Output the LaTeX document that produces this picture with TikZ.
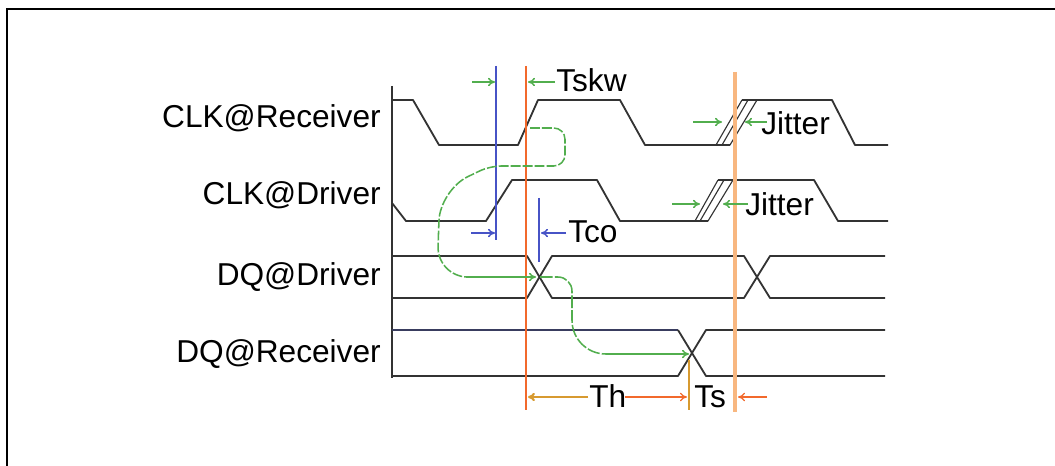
\documentclass[tikz,border=0pt]{standalone}
\usepackage{fontspec}
\setmainfont{Liberation Sans}
\usepackage{tikz}
\usetikzlibrary{arrows.meta,calc}
\definecolor{wave}{HTML}{333333}
\definecolor{skwgreen}{HTML}{52AE4E}
\definecolor{coblue}{HTML}{4753C6}
\definecolor{refred}{HTML}{F2692C}
\definecolor{refpeach}{HTML}{F8B780}
\definecolor{holdgold}{HTML}{D79A30}
\tikzset{
  sig/.style={draw=wave,line width=1.3pt,line join=round},
  jit/.style={draw=wave,line width=0.8pt},
  garr/.style={-{To[length=5pt,width=6pt]},skwgreen,line width=1.1pt},
  barr/.style={-{To[length=5pt,width=6pt]},coblue,line width=1.1pt},
  oarr/.style={-{To[length=5pt,width=6pt]},refred,line width=0.9pt},
  lbl/.style={font=\fontsize{22.5}{26}\selectfont,text=black,inner sep=0pt},
  flow/.style={skwgreen,line width=1.1pt},
}
\begin{document}
\begin{tikzpicture}[x=0.025cm,y=-0.025cm]
\useasboundingbox (0,0) rectangle (1055,466);
\draw[line width=2pt] (7,466) -- (7,9) -- (1055,9);

\node[lbl,anchor=base east] (clkrx) at (381,128) {CLK@Receiver};
\node[lbl,anchor=base east] (clktx) at (381,205) {CLK@Driver};
\node[lbl,anchor=base east] (dqtx) at (381,285) {DQ@Driver};
\node[lbl,anchor=base east] (dqrx) at (381,362) {DQ@Receiver};

\draw[sig] (392,86) -- (392,378);

% clocks
\draw[sig] (392,100) -- (413,100) -- (439,145) -- (518,145) -- (538,100) -- (620,100)
  -- (645,145) -- (730,145);
\draw[jit] (716,145) -- (742,100) (722,145) -- (748,100) (730,145) -- (757,100);
\draw[sig] (742,100) -- (832,100) -- (855,145) -- (888,145);
\draw[sig] (392,203) -- (406,221) -- (486,221) -- (512,180) -- (597,180) -- (620,221)
  -- (708,221);
\draw[jit] (695,221) -- (718,180) (700,221) -- (724,180) (708,221) -- (733,180);
\draw[sig] (718,180) -- (814,180) -- (838,221) -- (888,221);

% data
\draw[sig] (392,256) -- (527,256) -- (552,298) -- (744,298) -- (770,256) -- (885,256);
\draw[sig] (392,298) -- (527,298) -- (552,256) -- (744,256) -- (770,298) -- (885,298);
\draw[sig,draw=coblue!30!wave] (392,330) -- (678,330);
\draw[sig] (678,330) -- (706,376) -- (885,376);
\draw[sig] (392,376) -- (678,376) -- (706,330) -- (885,330);

% markers
\coordinate (skw) at (496,66);
\coordinate (edge) at (526,66);
\coordinate (co) at (539,198);
\coordinate (next) at (735,72);
\draw[coblue,line width=1.2pt] (skw) -- (496,240);
\draw[refred,line width=1.3pt] (edge) -- (526,410);
\draw[coblue,line width=1.3pt] (co) -- (539,262);
\draw[refpeach,line width=2.2pt] (next) -- (735,412);
\draw[holdgold,line width=1.6pt] (689,360) -- (689,410);

% flow
\draw[flow,dash pattern=on 7pt off 1.5pt,rounded corners=8pt] (530,128) -- (565,128) -- (565,166)
  -- (490,166) [rounded corners=22pt] -- (440,190) -- (437,277) -- (470,277);
\draw[flow,-{To[length=5pt,width=6pt]},rounded corners=12pt] (466,277) -- (536,277);
\draw[flow,dash pattern=on 9pt off 1.5pt] (540,277) [rounded corners=10pt] -- (572,277)
  [rounded corners=24pt] -- (572,354) -- (610,354);
\draw[flow,-{To[length=5pt,width=6pt]}] (606,354) -- (689,354);

% timing labels
\draw[garr] (472,82) -- (495,82);
\draw[garr] (555,82) -- (528,82);
\node[lbl,anchor=base west] (tskw) at (556,92) {Tskw};
\draw[barr] (471,233) -- (495,233);
\draw[barr] (566,233) -- (541,233);
\node[lbl,anchor=base west] (tco) at (568,242) {Tco};
\draw[garr] (693,122) -- (722,122);
\draw[garr] (767,122) -- (745,122);
\node[lbl,anchor=base west] (jit1) at (761,135) {Jitter};
\draw[garr] (672,204) -- (700,204);
\draw[garr] (748,204) -- (723,204);
\node[lbl,anchor=base west] (jit2) at (745,215) {Jitter};
\draw[-{To[length=5pt,width=6pt]},holdgold,line width=1.6pt] (588,397) -- (528,397);
\node[lbl,anchor=base west] (th) at (589,407) {Th};
\draw[oarr] (625,397) -- (687,397);
\node[lbl,anchor=base west] (ts) at (694,407) {Ts};
\draw[oarr] (767,397) -- (738,397);
\end{tikzpicture}
\end{document}
